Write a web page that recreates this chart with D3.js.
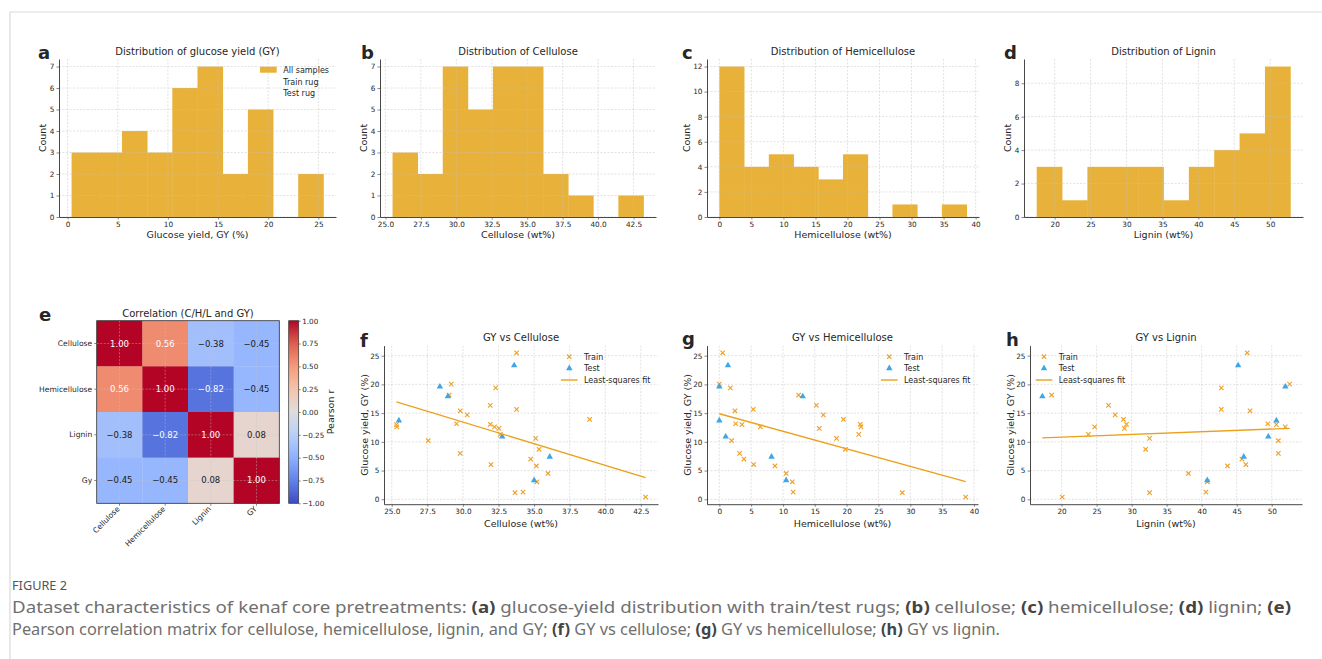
<!DOCTYPE html>
<html>
<head>
<meta charset="utf-8">
<script src="https://cdn.jsdelivr.net/npm/d3@7"></script>
<style>
  body { margin: 0; background: #fff; }
  svg text { font-family: "DejaVu Sans", sans-serif; fill: #262626; }
  svg text.caption { font-family: "Noto Sans", sans-serif; fill: #6a6a6a; }
</style>
</head>
<body>
<svg id="fig" width="1322" height="659"></svg>
<script>
const glucoseYield = [23.3, 19.6, 17.9, 13.7, 10.9, 7.4, 3.3,
  0.4, 1.15, 1.25, 3.05, 4.5, 5.8, 6.05, 7.0, 8.0, 8.7, 10.2, 10.6, 11.3, 12.35,
  12.6, 12.6, 13.0, 13.05, 13.15, 13.9, 14.7, 15.4, 15.65, 16.35, 18.15, 19.4, 20.05, 25.5];
const cellulose = [33.6, 28.38, 28.94, 25.5, 32.76, 36.1, 35.0,
  42.83, 33.66, 34.22, 35.2, 35.98, 35.16, 31.97, 34.76, 29.81, 35.35, 27.56, 35.11, 32.62, 32.53,
  32.22, 25.35, 25.33, 31.92, 29.55, 38.9, 30.3, 29.81, 33.77, 31.92, 29.03, 32.3, 29.18, 33.77];
const hemicellulose = [1.36, 0.0, 13.1, 0.0, 1.0, 8.2, 10.5,
  38.7, 28.74, 11.6, 11.47, 10.5, 8.74, 5.39, 3.87, 3.19, 19.8, 1.94, 18.4, 21.9, 15.7,
  22.25, 6.44, 3.56, 22.15, 2.57, 19.5, 16.34, 2.46, 5.34, 15.24, 12.46, 1.73, 0.0, 0.52];
const lignin = [45.2, 51.93, 17.26, 50.66, 49.5, 46.0, 40.8,
  20.1, 32.56, 40.6, 40.8, 38.1, 43.68, 46.3, 45.74, 50.94, 32.0, 50.94, 32.56, 23.83, 28.97,
  24.72, 51.93, 50.66, 29.26, 49.43, 28.83, 27.65, 46.9, 42.8, 26.7, 18.58, 42.8, 52.55, 46.5];
const split = ['test', 'test', 'test', 'test', 'test', 'test', 'test',
  'train', 'train', 'train', 'train', 'train', 'train', 'train', 'train', 'train', 'train', 'train', 'train',
  'train', 'train', 'train', 'train', 'train', 'train', 'train', 'train', 'train', 'train', 'train', 'train',
  'train', 'train', 'train', 'train'];

// histogram counts (10 equal bins over each range)
const gyRange = [0.4, 25.5];
const gyCounts = [3, 3, 4, 3, 6, 7, 2, 5, 0, 2];
const celluloseRange = [25.5, 43.2];
const celluloseCounts = [3, 2, 7, 5, 7, 7, 2, 1, 0, 1];
const hemiRange = [0, 38.6];
const hemiCounts = [12, 4, 5, 4, 3, 5, 0, 1, 0, 1];
const ligninRange = [17.5, 52.8];
const ligninCounts = [3, 1, 3, 3, 3, 1, 3, 4, 5, 9];

// correlation matrix
const corrRowLabels = ['Cellulose', 'Hemicellulose', 'Lignin', 'Gy'];
const corrColLabels = ['Cellulose', 'Hemicellulose', 'Lignin', 'GY'];
const corrValues = [
  [1.00, 0.56, -0.38, -0.45],
  [0.56, 1.00, -0.82, -0.45],
  [-0.38, -0.82, 1.00, 0.08],
  [-0.45, -0.45, 0.08, 1.00]
];

// tick values
const gyTicks = [0, 5, 10, 15, 20, 25];
const celluloseTicks = [25, 27.5, 30, 32.5, 35, 37.5, 40, 42.5];
const hemiTicks = [0, 5, 10, 15, 20, 25, 30, 35, 40];
const ligninTicks = [20, 25, 30, 35, 40, 45, 50];
const countTicks7 = [0, 1, 2, 3, 4, 5, 6, 7];
const countTicks12 = [0, 2, 4, 6, 8, 10, 12];
const countTicks8 = [0, 2, 4, 6, 8];
const corrTicks = [-1, -0.75, -0.5, -0.25, 0, 0.25, 0.5, 0.75, 1];

const histColor = '#e8b13a';
const trainColor = '#efa12a';
const testColor = '#3ea6e6';
const fitColor = '#eba11b';

const svg = d3.select('#fig');

// page frame
svg.append('line').attr('x1', 10).attr('y1', 12).attr('x2', 1322).attr('y2', 12)
  .attr('stroke', '#d9d9d9').attr('stroke-width', 1.2);
svg.append('line').attr('x1', 10).attr('y1', 12).attr('x2', 10).attr('y2', 659)
  .attr('stroke', '#d9d9d9').attr('stroke-width', 1.2);

const padDomain = ([a, b]) => [a - (b - a) * 0.05, b + (b - a) * 0.05];

const styleAxis = (g, fontSize) => {
  g.attr('font-family', null).attr('font-size', null);
  g.select('.domain').attr('stroke', '#333').attr('stroke-width', 0.9);
  g.selectAll('.tick line').attr('stroke', '#555').attr('stroke-width', 0.7);
  g.selectAll('.tick text').attr('fill', '#262626').style('font-size', fontSize + 'px');
};

const drawGrid = (g, x, y, xTicks, yTicks, r) => {
  const grid = g.append('g').attr('stroke', '#c4c4c4').attr('stroke-width', 0.6)
    .attr('stroke-dasharray', '2,1.5').attr('opacity', 0.8);
  xTicks.forEach(t => grid.append('line').attr('x1', x(t)).attr('x2', x(t)).attr('y1', r.y0).attr('y2', r.y1));
  yTicks.forEach(t => grid.append('line').attr('x1', r.x0).attr('x2', r.x1).attr('y1', y(t)).attr('y2', y(t)));
};

const drawFrameText = (g, r, cfg) => {
  g.append('text').attr('x', (r.x0 + r.x1) / 2).attr('y', cfg.titleY)
    .attr('text-anchor', 'middle').style('font-size', '10px').text(cfg.title);
  g.append('text').attr('x', (r.x0 + r.x1) / 2).attr('y', cfg.xLabelY)
    .attr('text-anchor', 'middle').style('font-size', '9.5px').text(cfg.xLabel);
  g.append('text').attr('transform', 'translate(' + cfg.yLabelX + ',' + (r.y0 + r.y1) / 2 + ') rotate(-90)')
    .attr('text-anchor', 'middle').attr('dy', '0.35em').style('font-size', '9.5px').text(cfg.yLabel);
  g.append('text').attr('x', cfg.letter[1]).attr('y', cfg.letter[2])
    .style('font-size', '18px').style('font-weight', 'bold').attr('fill', '#000').text(cfg.letter[0]);
};

const drawAxes = (g, x, y, r, xTicks, yTicks, xFormat, yFormat) => {
  g.append('g').attr('transform', 'translate(0,' + r.y1 + ')')
    .call(d3.axisBottom(x).tickValues(xTicks).tickSize(2.5).tickSizeOuter(0).tickPadding(2).tickFormat(xFormat))
    .call(ax => styleAxis(ax, 7.3));
  g.append('g').attr('transform', 'translate(' + r.x0 + ',0)')
    .call(d3.axisLeft(y).tickValues(yTicks).tickSize(2.5).tickSizeOuter(0).tickPadding(2).tickFormat(yFormat))
    .call(ax => styleAxis(ax, 7.3));
};

const drawHist = cfg => {
  const r = cfg.rect;
  const g = svg.append('g');
  const x = d3.scaleLinear().domain(padDomain(cfg.range)).range([r.x0, r.x1]);
  const y = d3.scaleLinear().domain([0, d3.max(cfg.counts) * 1.05]).range([r.y1, r.y0]);
  const binW = (cfg.range[1] - cfg.range[0]) / cfg.counts.length;

  g.selectAll('rect.bar').data(cfg.counts).join('rect')
    .attr('class', 'bar')
    .attr('x', (d, i) => x(cfg.range[0] + i * binW))
    .attr('width', x(cfg.range[0] + binW) - x(cfg.range[0]) + 0.4)
    .attr('y', d => y(d))
    .attr('height', d => y(0) - y(d))
    .attr('fill', histColor);

  drawGrid(g, x, y, cfg.xTicks, cfg.yTicks, r);
  drawAxes(g, x, y, r, cfg.xTicks, cfg.yTicks, cfg.xFormat, d3.format('d'));
  drawFrameText(g, r, {title: cfg.title, titleY: 55, xLabel: cfg.xLabel, xLabelY: 237.5,
    yLabel: 'Count', yLabelX: cfg.yLabelX, letter: cfg.letter});
  return g;
};

const drawScatter = cfg => {
  const r = cfg.rect;
  const g = svg.append('g');
  const xs = cfg.values;
  const x = d3.scaleLinear().domain(padDomain(d3.extent(xs))).range([r.x0, r.x1]);
  const y = d3.scaleLinear().domain(padDomain(d3.extent(glucoseYield))).range([r.y1, r.y0]);

  drawGrid(g, x, y, cfg.xTicks, gyTicks, r);

  const idx = d3.range(xs.length);
  const cross = 'M-2.2,-2.2L2.2,2.2M-2.2,2.2L2.2,-2.2';
  g.selectAll('path.train').data(idx.filter(i => split[i] === 'train')).join('path')
    .attr('class', 'train')
    .attr('d', cross)
    .attr('transform', i => 'translate(' + x(xs[i]) + ',' + y(glucoseYield[i]) + ')')
    .attr('stroke', trainColor).attr('stroke-width', 1.15).attr('fill', 'none');
  const tri = d3.symbol(d3.symbolTriangle).size(18)();
  g.selectAll('path.test').data(idx.filter(i => split[i] === 'test')).join('path')
    .attr('class', 'test')
    .attr('d', tri)
    .attr('transform', i => 'translate(' + x(xs[i]) + ',' + y(glucoseYield[i]) + ')')
    .attr('fill', testColor);

  // least-squares fit over all samples
  const mx = d3.mean(xs), my = d3.mean(glucoseYield);
  const slope = d3.sum(idx, i => (xs[i] - mx) * (glucoseYield[i] - my)) / d3.sum(idx, i => (xs[i] - mx) ** 2);
  const [lo, hi] = d3.extent(xs);
  g.append('line')
    .attr('x1', x(lo)).attr('y1', y(my + slope * (lo - mx)))
    .attr('x2', x(hi)).attr('y2', y(my + slope * (hi - mx)))
    .attr('stroke', fitColor).attr('stroke-width', 1.4);

  drawAxes(g, x, y, r, cfg.xTicks, gyTicks, cfg.xFormat, d3.format('d'));
  drawFrameText(g, r, {title: cfg.title, titleY: 341, xLabel: cfg.xLabel, xLabelY: 526.5,
    yLabel: 'Glucose yield, GY (%)', yLabelX: r.x0 - 19, letter: cfg.letter});

  // legend
  const lx = cfg.legendX, rows = [356.7, 368.3, 380];
  const leg = g.append('g');
  leg.append('path').attr('d', cross).attr('transform', 'translate(' + lx + ',' + rows[0] + ')')
    .attr('stroke', trainColor).attr('stroke-width', 1.15).attr('fill', 'none');
  leg.append('path').attr('d', tri).attr('transform', 'translate(' + lx + ',' + rows[1] + ')')
    .attr('fill', testColor);
  leg.append('line').attr('x1', lx - 8.3).attr('x2', lx + 8.3).attr('y1', rows[2]).attr('y2', rows[2])
    .attr('stroke', fitColor).attr('stroke-width', 1.4);
  ['Train', 'Test', 'Least-squares fit'].forEach((t, i) => {
    leg.append('text').attr('x', lx + 14.7).attr('y', rows[i]).attr('dy', '0.35em')
      .style('font-size', '8px').attr('fill', '#333').text(t);
  });
};

const oneDec = d3.format('.1f');
const intFmt = d3.format('d');

const histA = drawHist({rect: {x0: 59, x1: 336, y0: 59, y1: 217}, range: gyRange, counts: gyCounts,
  xTicks: gyTicks, yTicks: countTicks7, xFormat: intFmt, title: 'Distribution of glucose yield (GY)',
  xLabel: 'Glucose yield, GY (%)', yLabelX: 43, letter: ['a', 38, 59]});
drawHist({rect: {x0: 380, x1: 656, y0: 59, y1: 217}, range: celluloseRange, counts: celluloseCounts,
  xTicks: celluloseTicks, yTicks: countTicks7, xFormat: oneDec, title: 'Distribution of Cellulose',
  xLabel: 'Cellulose (wt%)', yLabelX: 364, letter: ['b', 361, 59]});
drawHist({rect: {x0: 707, x1: 979, y0: 59, y1: 217}, range: hemiRange, counts: hemiCounts,
  xTicks: hemiTicks, yTicks: countTicks12, xFormat: intFmt, title: 'Distribution of Hemicellulose',
  xLabel: 'Hemicellulose (wt%)', yLabelX: 687, letter: ['c', 682, 59]});
drawHist({rect: {x0: 1024, x1: 1303, y0: 59, y1: 217}, range: ligninRange, counts: ligninCounts,
  xTicks: ligninTicks, yTicks: countTicks8, xFormat: intFmt, title: 'Distribution of Lignin',
  xLabel: 'Lignin (wt%)', yLabelX: 1008, letter: ['d', 1004, 59]});

// legend of panel a (rug handles are empty)
['All samples', 'Train rug', 'Test rug'].forEach((t, i) => {
  const cy = [69.7, 81.7, 93.3][i];
  if (i === 0) {
    histA.append('rect').attr('x', 260).attr('y', cy - 3).attr('width', 16.7).attr('height', 6)
      .attr('fill', histColor);
  }
  histA.append('text').attr('x', 283.3).attr('y', cy).attr('dy', '0.35em')
    .style('font-size', '8px').attr('fill', '#333').text(t);
});

drawScatter({rect: {x0: 384, x1: 658, y0: 345.6, y1: 504.2}, values: cellulose, xTicks: celluloseTicks,
  xFormat: oneDec, title: 'GY vs Cellulose', xLabel: 'Cellulose (wt%)', letter: ['f', 360, 347], legendX: 569.3});
drawScatter({rect: {x0: 707, x1: 978, y0: 345.6, y1: 504.2}, values: hemicellulose, xTicks: hemiTicks,
  xFormat: intFmt, title: 'GY vs Hemicellulose', xLabel: 'Hemicellulose (wt%)', letter: ['g', 682, 345], legendX: 889.3});
drawScatter({rect: {x0: 1030, x1: 1302, y0: 345.6, y1: 504.2}, values: lignin, xTicks: ligninTicks,
  xFormat: intFmt, title: 'GY vs Lignin', xLabel: 'Lignin (wt%)', letter: ['h', 1006, 346], legendX: 1044});

// correlation heatmap (panel e)
(() => {
  const r = {x0: 96.7, x1: 279.3, y0: 320.7, y1: 503.3};
  const cb = {x0: 288.7, x1: 298.7};
  const g = svg.append('g');
  const coolwarm = d3.piecewise(d3.interpolateRgb, ['#3b4cc0', '#6282ea', '#8db0fe', '#b8d0f9', '#dddddd',
    '#f5c4ad', '#f49a7b', '#de604d', '#b40426']);
  const color = v => coolwarm((v + 1) / 2);
  const x = d3.scaleBand().domain(corrColLabels).range([r.x0, r.x1]);
  const y = d3.scaleBand().domain(corrRowLabels).range([r.y0, r.y1]);

  const cells = corrValues.flatMap((row, i) => row.map((v, j) => ({i, j, v})));
  g.selectAll('rect.cell').data(cells).join('rect')
    .attr('class', 'cell')
    .attr('x', d => x(corrColLabels[d.j])).attr('y', d => y(corrRowLabels[d.i]))
    .attr('width', x.bandwidth() + 0.3).attr('height', y.bandwidth() + 0.3)
    .attr('fill', d => color(d.v));

  const grid = g.append('g').attr('stroke', '#c4c4c4').attr('stroke-width', 0.6)
    .attr('stroke-dasharray', '2,1.5').attr('opacity', 0.7);
  corrColLabels.forEach(c => grid.append('line').attr('x1', x(c) + x.bandwidth() / 2).attr('x2', x(c) + x.bandwidth() / 2)
    .attr('y1', r.y0).attr('y2', r.y1));
  corrRowLabels.forEach(c => grid.append('line').attr('y1', y(c) + y.bandwidth() / 2).attr('y2', y(c) + y.bandwidth() / 2)
    .attr('x1', r.x0).attr('x2', r.x1));

  g.selectAll('text.val').data(cells).join('text')
    .attr('class', 'val')
    .attr('x', d => x(corrColLabels[d.j]) + x.bandwidth() / 2)
    .attr('y', d => y(corrRowLabels[d.i]) + y.bandwidth() / 2)
    .attr('dy', '0.35em').attr('text-anchor', 'middle')
    .style('font-size', '8.5px')
    .style('fill', d => Math.abs(d.v) > 0.5 ? '#fff' : '#1a1a1a')
    .text(d => d3.format('.2f')(d.v));

  g.append('rect').attr('x', r.x0).attr('y', r.y0).attr('width', r.x1 - r.x0).attr('height', r.y1 - r.y0)
    .attr('fill', 'none').attr('stroke', '#333').attr('stroke-width', 0.8);

  const yAxis = g.append('g').attr('transform', 'translate(' + r.x0 + ',0)')
    .call(d3.axisLeft(y).tickSize(2.5).tickPadding(2).tickSizeOuter(0))
    .call(ax => styleAxis(ax, 7.6));
  yAxis.select('.domain').remove();
  const xAxis = g.append('g').attr('transform', 'translate(0,' + r.y1 + ')')
    .call(d3.axisBottom(x).tickSize(2.5).tickSizeOuter(0).tickPadding(2))
    .call(ax => styleAxis(ax, 7.6));
  xAxis.select('.domain').remove();
  xAxis.selectAll('.tick text').attr('text-anchor', 'end').attr('dy', null)
    .attr('transform', 'translate(0,4) rotate(-45)').attr('y', 2).attr('x', -1);

  // colorbar
  const cy = d3.scaleLinear().domain([-1, 1]).range([r.y1, r.y0]);
  const defs = svg.append('defs');
  const grad = defs.append('linearGradient').attr('id', 'cw').attr('x1', 0).attr('y1', 1).attr('x2', 0).attr('y2', 0);
  d3.range(0, 1.0001, 0.05).forEach(t => grad.append('stop').attr('offset', t).attr('stop-color', coolwarm(t)));
  g.append('rect').attr('x', cb.x0).attr('y', r.y0).attr('width', cb.x1 - cb.x0).attr('height', r.y1 - r.y0)
    .attr('fill', 'url(#cw)').attr('stroke', '#333').attr('stroke-width', 0.7);
  g.append('g').attr('transform', 'translate(' + cb.x1 + ',0)')
    .call(d3.axisRight(cy).tickValues(corrTicks).tickSize(2).tickPadding(1.5).tickSizeOuter(0).tickFormat(d3.format('.2f')))
    .call(ax => styleAxis(ax, 7.2))
    .call(ax => ax.select('.domain').remove());
  g.append('text').attr('transform', 'translate(331,' + (r.y0 + r.y1) / 2 + ') rotate(-90)')
    .attr('text-anchor', 'middle').attr('dy', '0.35em').style('font-size', '9.5px').text('Pearson r');

  g.append('text').attr('x', 188).attr('y', 316.5).attr('text-anchor', 'middle')
    .style('font-size', '10px').text('Correlation (C/H/L and GY)');
  g.append('text').attr('x', 39).attr('y', 321).style('font-size', '18px').style('font-weight', 'bold')
    .attr('fill', '#000').text('e');
})();

// caption
svg.append('text').attr('class', 'caption').attr('x', 12).attr('y', 590)
  .style('font-size', '12px').style('fill', '#555').attr('textLength', 55).attr('lengthAdjust', 'spacingAndGlyphs')
  .text('FIGURE 2');
const captionLines = [
  [['Dataset characteristics of kenaf core pretreatments: ', false], ['(a)', true],
    [' glucose-yield distribution with train/test rugs; ', false], ['(b)', true], [' cellulose; ', false],
    ['(c)', true], [' hemicellulose; ', false], ['(d)', true], [' lignin; ', false], ['(e)', true]],
  [['Pearson correlation matrix for cellulose, hemicellulose, lignin, and GY; ', false], ['(f)', true],
    [' GY vs cellulose; ', false], ['(g)', true], [' GY vs hemicellulose; ', false], ['(h)', true],
    [' GY vs lignin.', false]]
];
const captionWidths = [1279, 988];
captionLines.forEach((parts, li) => {
  const t = svg.append('text').attr('class', 'caption').attr('x', 12).attr('y', 613 + li * 22)
    .style('font-size', '15.5px').attr('textLength', captionWidths[li]).attr('lengthAdjust', 'spacingAndGlyphs');
  parts.forEach(([s, bold]) => {
    t.append('tspan').text(s).style('font-weight', bold ? 'bold' : 'normal').style('fill', bold ? '#444' : '#707070');
  });
});
</script>
</body>
</html>
